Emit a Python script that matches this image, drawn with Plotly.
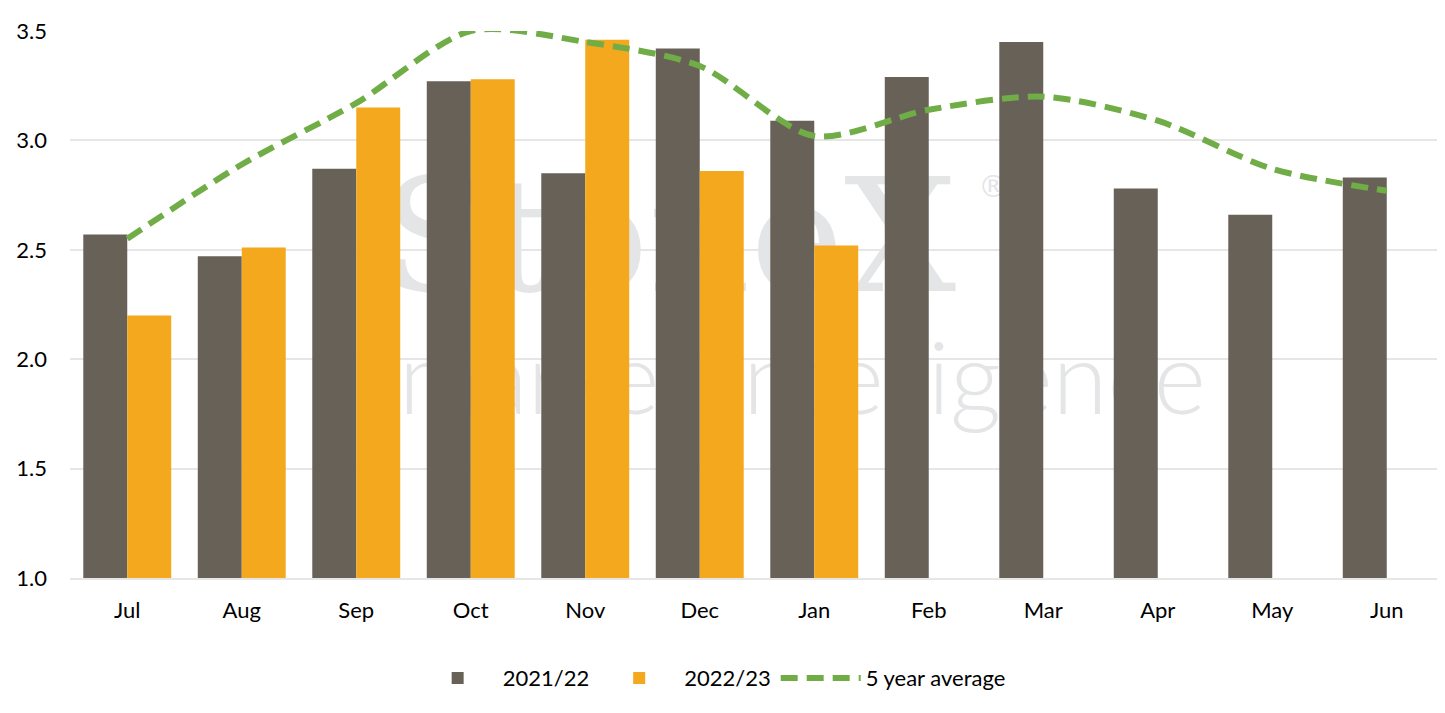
import plotly.graph_objects as go

months = ["Jul", "Aug", "Sep", "Oct", "Nov", "Dec", "Jan", "Feb", "Mar", "Apr", "May", "Jun"]
season_2021_22 = [2.57, 2.47, 2.87, 3.27, 2.85, 3.42, 3.09, 3.29, 3.45, 2.78, 2.66, 2.83]
season_2022_23 = [2.20, 2.51, 3.15, 3.28, 3.46, 2.86, 2.52, None, None, None, None, None]
five_year_avg = [2.55, 2.89, 3.17, 3.50, 3.45, 3.34, 3.02, 3.14, 3.20, 3.09, 2.87, 2.77]
y_tick_vals = [1.0, 1.5, 2.0, 2.5, 3.0, 3.5]
y_tick_text = ["1.0", "1.5", "2.0", "2.5", "3.0", "3.5"]
series_names = ["2021/22", "2022/23", "5 year average"]
watermark_main = "StoneX"
watermark_reg = "®"
watermark_sub = "market intelligence"

GRAY = "#686158"
ORANGE = "#F4A81D"
GREEN = "#70AD47"
WM = "#E4E5E7"
FONT = "Lato"

fig = go.Figure()

# Watermark on the base (hidden) axes, so the data subplot draws over it
fig.add_trace(go.Scatter(
    x=[0.436], y=[0.597], mode="text", text=[watermark_main],
    textfont=dict(family="DejaVu Serif", size=158, color=WM),
    textposition="middle center", showlegend=False, hoverinfo="skip",
    xaxis="x", yaxis="y"))
fig.add_trace(go.Scatter(
    x=[0.672], y=[0.71], mode="text", text=[watermark_reg],
    textfont=dict(family="DejaVu Sans", size=30, color=WM),
    textposition="middle center", showlegend=False, hoverinfo="skip",
    xaxis="x", yaxis="y"))
fig.add_trace(go.Scatter(
    x=[0.533], y=[0.345], mode="text", text=[watermark_sub],
    textfont=dict(family=FONT, size=100, color=WM, weight=300),
    textposition="middle center", showlegend=False, hoverinfo="skip",
    xaxis="x", yaxis="y"))

fig.add_trace(go.Bar(x=months, y=season_2021_22, name=series_names[0],
                     marker=dict(color=GRAY, line=dict(width=0)),
                     xaxis="x2", yaxis="y2"))
fig.add_trace(go.Bar(x=months, y=season_2022_23, name=series_names[1],
                     marker=dict(color=ORANGE, line=dict(width=0)),
                     xaxis="x2", yaxis="y2"))
fig.add_trace(go.Scatter(x=months, y=five_year_avg, name=series_names[2],
                         mode="lines",
                         line=dict(color=GREEN, width=6, dash="17px,9px",
                                   shape="spline", smoothing=0.8),
                         xaxis="x2", yaxis="y2"))

fig.update_layout(
    width=1437, height=705,
    margin=dict(l=62, r=1, t=23, b=135, autoexpand=False),
    paper_bgcolor="white", plot_bgcolor="white",
    font=dict(family=FONT, size=22, color="#000000"),
    barmode="group", bargap=0.232, bargroupgap=0,
    showlegend=True,
    legend=dict(orientation="h", x=0.467, xanchor="center",
                y=-0.183, yanchor="middle",
                font=dict(family=FONT, size=22, color="#000000"),
                itemwidth=80, tracegroupgap=0),
    xaxis=dict(range=[0, 1], visible=False, fixedrange=True),
    yaxis=dict(range=[0, 1], visible=False, fixedrange=True),
    xaxis2=dict(overlaying="x", type="category", showgrid=False,
                showline=True, linecolor="#E6E6E6", linewidth=2,
                ticks="", ticklabelstandoff=12,
                tickfont=dict(family=FONT, size=22, color="#000000")),
    yaxis2=dict(overlaying="y", range=[1.0, 3.5], tickvals=y_tick_vals,
                ticktext=y_tick_text, showgrid=True, gridcolor="#E6E6E6",
                gridwidth=2, zeroline=False, showline=False, ticks="",
                ticklabelstandoff=22,
                tickfont=dict(family=FONT, size=22, color="#000000")),
)

fig.write_html("out.html")
